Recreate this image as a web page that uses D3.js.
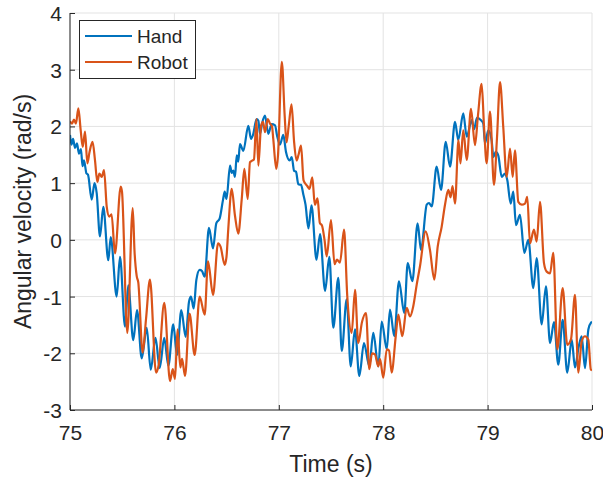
<!DOCTYPE html>
<html>
<head>
<meta charset="utf-8">
<script src="https://cdn.jsdelivr.net/npm/d3@7"></script>
<style>
  html, body { margin: 0; padding: 0; background: #fff; }
  svg { display: block; }
  text { font-family: "Liberation Sans", Arial, Helvetica, sans-serif; fill: #262626; }
</style>
</head>
<body>
<svg id="chart" width="603" height="479"></svg>
<script>
// ---- data ----
const handTime = [75.000,75.014,75.029,75.048,75.067,75.086,75.105,75.120,75.134,75.158,75.172,75.208,75.235,75.256,75.287,75.319,75.367,75.390,75.447,75.479,75.527,75.558,75.606,75.642,75.687,75.735,75.773,75.819,75.859,75.903,75.942,75.989,76.025,76.066,76.108,76.140,76.159,76.185,76.210,76.242,76.264,76.290,76.331,76.370,76.401,76.434,76.466,76.482,76.499,76.533,76.549,76.564,76.580,76.597,76.612,76.628,76.660,76.708,76.734,76.753,76.788,76.804,76.820,76.842,76.868,76.899,76.932,76.964,76.983,77.011,77.043,77.069,77.104,77.124,77.146,77.165,77.187,77.213,77.235,77.256,77.284,77.313,77.361,77.395,77.443,77.484,77.522,77.570,77.603,77.650,77.689,77.730,77.771,77.816,77.867,77.905,77.953,77.986,78.034,78.065,78.106,78.151,78.202,78.235,78.279,78.330,78.362,78.417,78.439,78.465,78.512,78.554,78.599,78.640,78.688,78.719,78.767,78.800,78.848,78.870,78.898,78.937,78.959,78.975,79.007,79.039,79.055,79.078,79.102,79.135,79.167,79.189,79.221,79.246,79.272,79.310,79.352,79.390,79.438,79.470,79.518,79.559,79.598,79.636,79.677,79.719,79.763,79.806,79.837,79.871,79.901,79.933,79.965,79.990,80.000];
const handVel = [1.85,1.68,1.78,1.62,1.70,1.52,1.60,1.30,1.40,1.17,1.15,0.71,1.00,0.82,0.06,0.58,-0.36,0.05,-1.00,-0.30,-1.53,-0.80,-1.77,-1.24,-2.09,-1.55,-2.29,-1.73,-2.26,-1.73,-2.22,-1.49,-2.03,-1.24,-1.71,-1.09,-1.00,-1.21,-0.71,-0.53,-0.55,-0.65,0.21,-0.15,0.29,0.38,0.71,0.85,0.72,1.31,1.18,1.22,1.11,1.49,1.38,1.69,1.57,2.01,1.78,1.85,2.13,2.10,1.87,2.07,2.19,1.87,2.04,2.02,1.84,1.68,1.85,1.55,1.40,1.46,1.22,1.20,0.98,0.97,0.80,0.62,0.20,0.61,-0.35,0.10,-0.90,-0.30,-1.55,-0.67,-1.96,-1.05,-2.23,-1.58,-2.40,-1.82,-2.23,-1.64,-2.23,-1.44,-1.93,-1.23,-1.70,-0.73,-1.29,-0.41,-0.73,0.29,-0.18,0.62,0.65,0.59,1.29,0.88,1.73,1.29,2.08,1.76,2.23,1.82,2.11,1.95,2.15,2.11,2.05,1.70,1.93,1.75,1.46,1.55,1.49,1.11,1.17,1.05,0.64,0.85,0.26,0.44,-0.23,0.00,-0.85,-0.32,-1.49,-0.82,-1.82,-1.45,-2.20,-1.41,-2.34,-1.76,-2.25,-1.90,-1.70,-2.26,-1.58,-1.46,-1.45];

const robotTime = [75.000,75.019,75.038,75.057,75.080,75.102,75.122,75.144,75.166,75.187,75.216,75.239,75.262,75.281,75.304,75.326,75.352,75.376,75.398,75.431,75.486,75.498,75.549,75.601,75.618,75.639,75.654,75.696,75.728,75.766,75.824,75.848,75.903,75.958,75.984,76.006,76.030,76.057,76.073,76.102,76.145,76.194,76.242,76.290,76.322,76.370,76.418,76.442,76.482,76.499,76.516,76.549,76.580,76.612,76.645,76.670,76.702,76.724,76.748,76.762,76.786,76.804,76.830,76.849,76.868,76.894,76.916,76.935,76.947,76.976,76.992,77.029,77.056,77.074,77.095,77.122,77.146,77.170,77.189,77.213,77.237,77.273,77.294,77.321,77.345,77.371,77.393,77.414,77.438,77.459,77.500,77.534,77.557,77.586,77.625,77.656,77.698,77.730,77.761,77.797,77.835,77.867,77.893,77.921,77.953,77.969,78.001,78.034,78.056,78.081,78.120,78.145,78.183,78.225,78.257,78.288,78.321,78.352,78.407,78.448,78.490,78.522,78.560,78.592,78.624,78.645,78.664,78.688,78.721,78.740,78.767,78.800,78.841,78.879,78.908,78.943,78.966,78.991,79.023,79.061,79.090,79.119,79.150,79.183,79.215,79.240,79.262,79.294,79.327,79.358,79.380,79.406,79.444,79.470,79.502,79.540,79.566,79.598,79.629,79.668,79.719,79.763,79.799,79.837,79.869,79.901,79.933,79.965,79.988,80.000];
const robotVel = [2.09,2.05,2.12,2.05,2.32,1.94,1.64,1.91,1.35,1.55,1.73,1.41,1.02,1.17,1.11,1.23,0.58,0.41,0.45,-0.24,0.94,0.85,-1.64,0.56,-0.20,-0.64,-0.75,-1.99,-1.40,-0.70,-2.34,-2.22,-1.11,-2.49,-2.28,-2.45,-1.58,-2.25,-2.10,-2.40,-1.30,-2.03,-1.00,-1.32,-0.38,-0.97,-0.06,-0.12,-0.44,-0.30,0.19,0.90,0.43,0.11,0.72,1.25,0.72,1.37,1.40,1.42,2.13,1.31,2.01,2.08,1.90,2.13,2.05,2.00,1.78,1.25,1.48,3.14,2.20,1.72,2.01,2.39,1.74,1.40,1.50,1.66,1.05,0.95,0.90,1.10,0.62,0.73,0.30,0.25,0.00,-0.29,0.35,-0.43,-0.35,-0.40,0.18,-1.00,-1.64,-0.88,-1.82,-1.45,-1.29,-2.28,-2.00,-2.02,-2.23,-2.10,-2.43,-1.93,-1.95,-2.34,-1.70,-1.32,-1.70,-1.20,-1.35,-1.17,-0.79,-0.47,0.15,-0.18,-0.70,-0.12,0.23,0.62,0.88,0.75,0.95,0.64,1.76,1.35,1.93,1.41,2.31,1.67,2.20,2.75,1.99,1.35,2.26,0.97,1.80,2.78,1.99,1.11,1.61,1.11,1.58,0.67,0.62,0.64,0.76,-0.06,0.18,-0.03,0.67,-0.41,-0.56,-0.59,-0.23,-1.93,-0.85,-1.85,-1.75,-0.97,-2.34,-1.79,-1.70,-1.76,-2.28,-2.30];

const xTicks = [75, 76, 77, 78, 79, 80];
const yTicks = [-3, -2, -1, 0, 1, 2, 3, 4];
const seriesNames = ["Hand", "Robot"];
const seriesColors = ["#0072BD", "#D95319"];

// ---- layout ----
const svg = d3.select("#chart");
const pL = 70, pR = 592, pT = 13, pB = 410;
const x = d3.scaleLinear().domain([75, 80]).range([pL, pR]);
const y = d3.scaleLinear().domain([-3, 4]).range([pB, pT]);
const axisColor = "#262626";
const fmt = d => String(d);

// grid
const grid = svg.append("g");
grid.selectAll("line.vx").data(xTicks).enter().append("line")
  .attr("x1", d => x(d)).attr("x2", d => x(d))
  .attr("y1", pT).attr("y2", pB)
  .attr("stroke", "#e3e3e3").attr("stroke-width", 1);
grid.selectAll("line.hy").data(yTicks).enter().append("line")
  .attr("x1", pL).attr("x2", pR)
  .attr("y1", d => y(d)).attr("y2", d => y(d))
  .attr("stroke", "#e3e3e3").attr("stroke-width", 1);

// lines
svg.append("clipPath").attr("id", "clip").append("rect")
  .attr("x", pL).attr("y", pT).attr("width", pR - pL).attr("height", pB - pT);

const handData = handTime.map((t, i) => [t, handVel[i]]);
const robotData = robotTime.map((t, i) => [t, robotVel[i]]);
const line = d3.line().x(d => x(d[0])).y(d => y(d[1])).curve(d3.curveMonotoneX);

const plot = svg.append("g").attr("clip-path", "url(#clip)");
[handData, robotData].forEach((data, i) => {
  plot.append("path").datum(data)
    .attr("d", line)
    .attr("fill", "none")
    .attr("stroke", seriesColors[i])
    .attr("stroke-width", 2.2)
    .attr("stroke-linejoin", "round");
});

// axes (MATLAB-like: ticks inward)
const xAxis = d3.axisBottom(x).tickValues(xTicks).tickSize(-5).tickPadding(0).tickFormat(fmt);
const gx = svg.append("g").attr("transform", `translate(0,${pB})`).call(xAxis);
gx.select(".domain").attr("stroke", axisColor).attr("d", `M${pL},0H${pR}`);
gx.selectAll(".tick line").attr("stroke", axisColor);
gx.selectAll(".tick text").attr("y", 30).attr("dy", 0)
  .style("font-size", "21px").style("font-family", "Liberation Sans, Arial, sans-serif").attr("fill", axisColor);

const yAxis = d3.axisLeft(y).tickValues(yTicks).tickSize(-5).tickPadding(0).tickFormat(fmt);
const gy = svg.append("g").attr("transform", `translate(${pL},0)`).call(yAxis);
gy.select(".domain").attr("stroke", axisColor).attr("d", `M0,${pB}V${pT}`);
gy.selectAll(".tick line").attr("stroke", axisColor);
gy.selectAll(".tick text").attr("x", -8).attr("dy", "0.36em")
  .style("font-size", "21px").style("font-family", "Liberation Sans, Arial, sans-serif").attr("fill", axisColor);

// axis labels
svg.append("text").attr("x", (pL + pR) / 2).attr("y", 472)
  .attr("text-anchor", "middle").style("font-size", "23px").text("Time (s)");
svg.append("text").attr("transform", `translate(31,${(pT + pB) / 2}) rotate(-90)`)
  .attr("text-anchor", "middle").style("font-size", "23px").text("Angular velocity (rad/s)");

// legend
const lg = svg.append("g");
lg.append("rect").attr("x", 79.5).attr("y", 20.5).attr("width", 116).attr("height", 58)
  .attr("fill", "#fff").attr("stroke", axisColor).attr("stroke-width", 1);
seriesNames.forEach((name, i) => {
  const ly = 36 + i * 26;
  lg.append("line").attr("x1", 85).attr("x2", 132).attr("y1", ly).attr("y2", ly)
    .attr("stroke", seriesColors[i]).attr("stroke-width", 2.2);
  lg.append("text").attr("x", 137).attr("y", ly).attr("dy", "0.36em")
    .style("font-size", "19px").text(name);
});
</script>
</body>
</html>
